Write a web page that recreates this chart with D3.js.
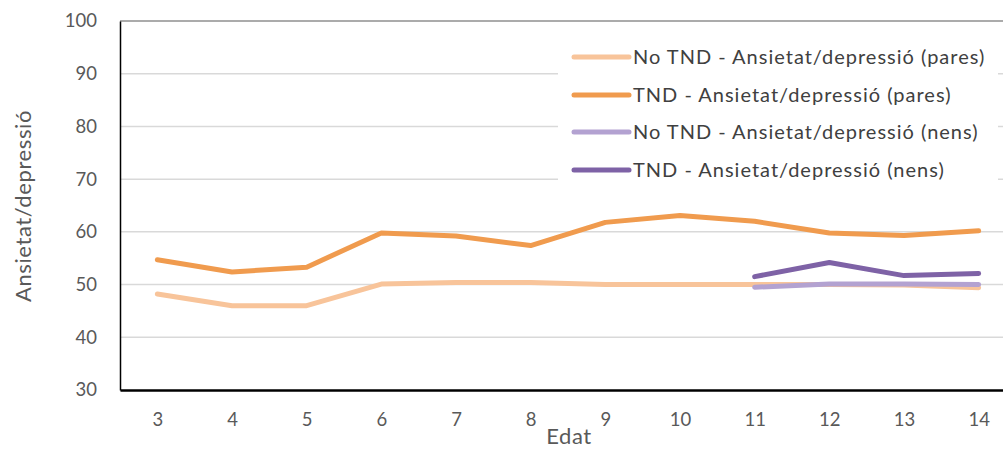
<!DOCTYPE html>
<html><head><meta charset="utf-8">
<script src="https://cdn.jsdelivr.net/npm/d3@7/dist/d3.min.js"></script>
<style>body{margin:0;background:#fff}svg{display:block}text{font-family:Lato,"Open Sans",sans-serif}</style>
</head><body>
<svg id="c" width="1003" height="452"></svg>
<script>
const ages = [3,4,5,6,7,8,9,10,11,12,13,14];
const yTicks = [30,40,50,60,70,80,90,100];
const noTndPares = [48.2,46.0,46.0,50.1,50.4,50.4,50.0,50.0,50.0,50.0,49.9,49.4];
const tndPares = [54.7,52.4,53.3,59.8,59.2,57.4,61.8,63.1,62.0,59.8,59.3,60.2];
const noTndNens = [null,null,null,null,null,null,null,null,49.5,50.1,50.1,50.0];
const tndNens = [null,null,null,null,null,null,null,null,51.5,54.2,51.7,52.1];
const seriesNames = ["No TND - Ansietat/depressió (pares)","TND - Ansietat/depressió (pares)","No TND - Ansietat/depressió (nens)","TND - Ansietat/depressió (nens)"];
const seriesColors = ["#F8C49A","#F09B4E","#B3A2D1","#7E62A6"];
const seriesData = [noTndPares,tndPares,noTndNens,tndNens];

const svg = d3.select("#c");
const pL=120, pR=1016, pT=21, pB=390;
const x = d3.scalePoint().domain(ages).range([pL,pR]).padding(0.5);
const y = d3.scaleLinear().domain([30,100]).range([pB,pT]);

// gridlines
svg.append("g").selectAll("line").data(yTicks.filter(d=>d>30&&d<100)).join("line")
  .attr("x1",pL).attr("x2",1003).attr("y1",d=>y(d)).attr("y2",d=>y(d))
  .attr("stroke","#d9d9d9").attr("stroke-width",1.5);
// top border
svg.append("line").attr("x1",pL).attr("x2",1003).attr("y1",pT).attr("y2",pT).attr("stroke","#595959").attr("stroke-width",1.2);

// lines
const line = d3.line().defined(d=>d.v!=null).x(d=>x(d.a)).y(d=>y(d.v));
seriesData.forEach((s,i)=>{
  svg.append("path").datum(ages.map((a,j)=>({a,v:s[j]})))
    .attr("d",line).attr("fill","none").attr("stroke",seriesColors[i])
    .attr("stroke-width",5).attr("stroke-linejoin","round").attr("stroke-linecap","round");
});

// axes
const yAxis = svg.append("g").attr("transform",`translate(${pL},0)`)
  .call(d3.axisLeft(y).tickValues(yTicks).tickSize(0).tickPadding(23));
yAxis.select(".domain").attr("stroke","#000").attr("stroke-width",1.5);
yAxis.selectAll("text").attr("font-size",18.5).attr("fill","#595959");
const xAxis = svg.append("g").attr("transform",`translate(0,${pB})`)
  .call(d3.axisBottom(x).tickSize(0).tickPadding(23));
xAxis.select(".domain").attr("stroke","#000").attr("stroke-width",2.5);
xAxis.selectAll("text").attr("font-size",18.5).attr("fill","#595959");

// axis titles
svg.append("text").attr("transform","translate(31,206) rotate(-90)").attr("text-anchor","middle")
  .attr("font-size",22).attr("letter-spacing",0.6).attr("fill","#595959").text("Ansietat/depressió");
svg.append("text").attr("x",569).attr("y",444).attr("text-anchor","middle")
  .attr("font-size",22).attr("letter-spacing",0.6).attr("fill","#595959").text("Edat");

// legend
const lg = svg.append("g");
lg.append("rect").attr("x",558).attr("y",38).attr("width",440).attr("height",152).attr("fill","#fff");
const rows=[57,95,132,170];
seriesNames.forEach((n,i)=>{
  lg.append("line").attr("x1",574).attr("x2",629).attr("y1",rows[i]).attr("y2",rows[i])
    .attr("stroke",seriesColors[i]).attr("stroke-width",5).attr("stroke-linecap","round");
  lg.append("text").attr("x",633).attr("y",rows[i]).attr("dy","0.35em")
    .attr("font-size",20).attr("letter-spacing",1).attr("fill","#404040").text(n);
});
</script>
</body></html>
